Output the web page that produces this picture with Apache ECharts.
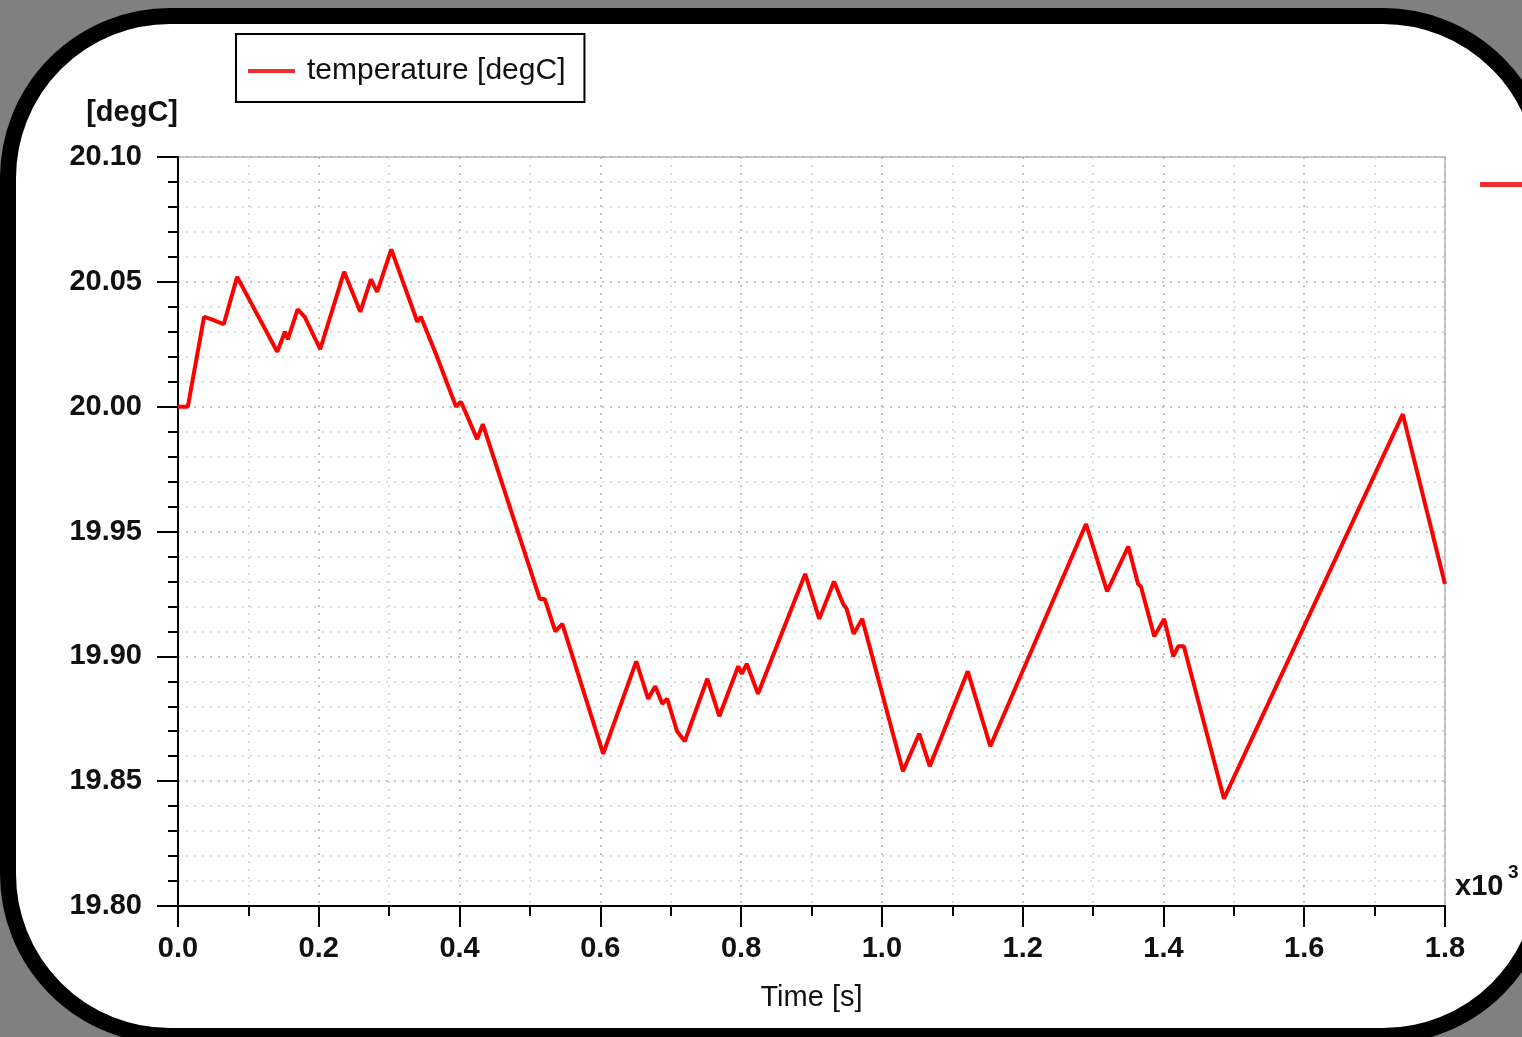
<!DOCTYPE html>
<html>
<head>
<meta charset="utf-8">
<script src="https://cdn.jsdelivr.net/npm/echarts@6/dist/echarts.min.js"></script>
<style>
  html, body { margin: 0; padding: 0; width: 1522px; height: 1037px; overflow: hidden; background: #808080; }
  #frame { position: absolute; left: 0; top: 0; width: 1522px; height: 1037px; }
  #chart { position: absolute; left: 0; top: 0; width: 1522px; height: 1037px; }
</style>
</head>
<body>
<svg id="frame" width="1522" height="1037" viewBox="0 0 1522 1037">
  <rect x="8" y="16" width="1537" height="1020" rx="162" ry="162" fill="#ffffff" stroke="#000000" stroke-width="16"></rect>
</svg>
<div id="chart"></div>
<script>
// time in seconds (axis labelled in x10^3 s)
const timeSec = [0, 14, 37, 48, 65, 84, 141, 152, 156, 170, 180, 202, 236, 259, 274, 283, 303, 340, 345, 368,
  395, 402, 425, 433, 514, 521, 536, 546, 604, 651, 668, 678, 688, 695, 709, 720, 752, 769, 796, 801, 808, 824,
  891, 911, 932, 945, 950, 960, 972, 1030, 1053, 1068, 1122, 1154, 1290, 1320, 1350, 1364, 1368, 1387, 1401,
  1414, 1421, 1429, 1486, 1740, 1800];
const temperature = [20.000, 20.000, 20.036, 20.035, 20.033, 20.052, 20.022, 20.030, 20.027, 20.039, 20.036,
  20.023, 20.054, 20.038, 20.051, 20.046, 20.063, 20.034, 20.036, 20.020,
  20.000, 20.002, 19.987, 19.993, 19.923, 19.923, 19.910, 19.913, 19.861, 19.898, 19.883, 19.888, 19.881,
  19.883, 19.870, 19.866, 19.891, 19.876, 19.896, 19.893, 19.897, 19.885,
  19.933, 19.915, 19.930, 19.921, 19.919, 19.909, 19.915, 19.854, 19.869, 19.856, 19.894, 19.864,
  19.953, 19.926, 19.944, 19.929, 19.928, 19.908, 19.915, 19.900, 19.904, 19.904, 19.843, 19.997, 19.929];
const seriesName = 'temperature [degC]';
const yAxisName = '[degC]';
const xAxisName = 'Time [s]';
const xScaleText = 'x10';
const xScaleExp = '3';

const FONT = '"Liberation Sans", Arial, sans-serif';
const chart = echarts.init(document.getElementById('chart'));
const data = timeSec.map((t, i) => [t, temperature[i]]);

chart.setOption({
  backgroundColor: 'transparent',
  animation: false,
  textStyle: { fontFamily: FONT },
  legend: {
    show: true,
    left: 236, top: 34,
    orient: 'horizontal',
    padding: [22, 19, 16, 12],
    borderColor: '#000', borderWidth: 2,
    backgroundColor: '#fff',
    itemWidth: 47, itemHeight: 4,
    icon: 'rect',
    textStyle: { fontFamily: FONT, fontSize: 30, color: '#111', padding: [0, 0, 0, 7] },
    data: [{ name: seriesName, itemStyle: { color: '#f03030' } }]
  },
  grid: {
    left: 178, right: 77, top: 157, bottom: 131,
    show: true, borderColor: '#c8c8c8', borderWidth: 2, backgroundColor: 'transparent'
  },
  xAxis: {
    type: 'value', min: 0, max: 1800, interval: 200,
    name: xAxisName, nameLocation: 'middle', nameGap: 77,
    nameTextStyle: { fontFamily: FONT, fontSize: 29, color: '#111', verticalAlign: 'top' },
    axisLine: { show: true, onZero: false, lineStyle: { color: '#000', width: 2 } },
    axisTick: { show: true, length: 21, lineStyle: { color: '#000', width: 2 } },
    minorTick: { show: true, splitNumber: 2, length: 10, lineStyle: { color: '#000', width: 2 } },
    axisLabel: { margin: 28, fontFamily: FONT, fontSize: 29, fontWeight: 'bold', color: '#111',
      formatter: v => (v / 1000).toFixed(1) },
    splitLine: { show: true, lineStyle: { color: '#b0b0b0', width: 1.5, type: [2, 6] } },
    minorSplitLine: { show: true, lineStyle: { color: '#d2d2d2', width: 1.5, type: [2, 6] } }
  },
  yAxis: {
    type: 'value', min: 19.8, max: 20.1, interval: 0.05,
    name: yAxisName, nameLocation: 'end', nameGap: 44,
    nameTextStyle: { fontFamily: FONT, fontSize: 29, fontWeight: 'bold', color: '#111', align: 'right', verticalAlign: 'middle' },
    axisLine: { show: true, onZero: false, lineStyle: { color: '#000', width: 2 } },
    axisTick: { show: true, length: 21, lineStyle: { color: '#000', width: 2 } },
    minorTick: { show: true, splitNumber: 5, length: 10, lineStyle: { color: '#000', width: 2 } },
    axisLabel: { margin: 36, fontFamily: FONT, fontSize: 29, fontWeight: 'bold', color: '#111',
      formatter: v => v.toFixed(2) },
    splitLine: { show: true, lineStyle: { color: '#b0b0b0', width: 1.5, type: [2, 6] } },
    minorSplitLine: { show: true, lineStyle: { color: '#d2d2d2', width: 1.5, type: [2, 6] } }
  },
  graphic: [
    { type: 'text', left: 1455, top: 872, style: { text: xScaleText, fontFamily: FONT, fontSize: 29, fontWeight: 'bold', fill: '#111' } },
    { type: 'text', left: 1508, top: 863, style: { text: xScaleExp, fontFamily: FONT, fontSize: 19, fontWeight: 'bold', fill: '#111' } },
    { type: 'rect', left: 1480, top: 182, shape: { width: 50, height: 5 }, style: { fill: '#f03030' } }
  ],
  series: [{
    name: seriesName,
    type: 'line',
    data: data,
    showSymbol: false,
    symbol: 'none',
    lineStyle: { color: '#ff0000', width: 4 },
    itemStyle: { color: '#ff0000' }
  }]
});
</script>
</body>
</html>
